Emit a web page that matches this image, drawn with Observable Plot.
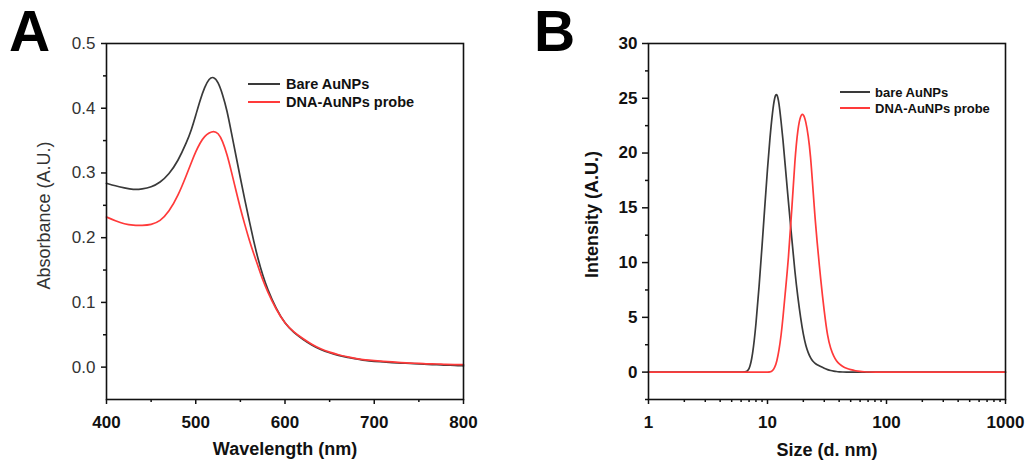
<!DOCTYPE html>
<html>
<head>
<meta charset="utf-8">
<script src="https://cdn.jsdelivr.net/npm/d3@7"></script>
<script src="https://cdn.jsdelivr.net/npm/@observablehq/plot@0.6"></script>
<style>
  html, body { margin: 0; padding: 0; background: #fff; }
  #wrap { position: relative; width: 1029px; height: 465px; overflow: hidden; font-family: "Liberation Sans", Arial, sans-serif; }
  .panel { position: absolute; top: 0; }
  .letter { position: absolute; font-weight: bold; font-size: 57px; line-height: 1; color: #000; }
  .leg { position: absolute; display: flex; align-items: center; font-weight: bold; color: #111; white-space: nowrap; }
  .sw { display: inline-block; height: 0; border-top-style: solid; border-top-width: 2px; }
</style>
</head>
<body>
<div id="wrap"></div>
<script>
// ---------- Panel A: UV-vis ----------
const wavelengths = [400,410,420,430,440,450,460,470,480,490,495,500,505,510,515,520,525,530,535,540,545,550,555,560,565,570,575,580,590,600,610,620,630,640,650,660,670,680,690,700,710,720,730,740,750,760,770,780,790,800];
const absBare  = [0.284,0.280,0.277,0.274,0.275,0.278,0.285,0.298,0.318,0.348,0.366,0.389,0.413,0.433,0.446,0.449,0.441,0.422,0.397,0.362,0.327,0.292,0.258,0.226,0.194,0.166,0.142,0.122,0.090,0.067,0.053,0.043,0.034,0.027,0.022,0.018,0.015,0.013,0.010,0.009,0.008,0.007,0.006,0.006,0.005,0.004,0.004,0.003,0.003,0.002];
const absProbe = [0.232,0.226,0.221,0.219,0.219,0.220,0.225,0.240,0.264,0.298,0.316,0.333,0.347,0.357,0.362,0.365,0.362,0.350,0.329,0.302,0.273,0.245,0.220,0.196,0.175,0.155,0.135,0.118,0.089,0.067,0.054,0.044,0.035,0.028,0.023,0.019,0.016,0.013,0.011,0.010,0.009,0.008,0.007,0.006,0.006,0.005,0.005,0.004,0.004,0.004];
const aXTicks = [400,500,600,700,800];
const aXMinor = [450,550,650,750];
const aYTicks = [0,0.1,0.2,0.3,0.4,0.5];
const aYMinor = [0.05,0.15,0.25,0.35,0.45];

// ---------- Panel B: DLS ----------
const sizes     = [1,2,4,6,6.5,7,7.5,8,8.5,9,9.5,10,10.5,11,11.5,12,12.5,13,13.5,14,15,16,17,18,19,20,21,22,23,24,25,26,28,30,32,34,36,38,40,43,46,50,55,60,65,70,80,100,200,500,1000];
const intBare   = [0,0,0,0,0,0.1,1.5,4.3,7.8,11.5,15.2,18.6,21.5,23.7,25.2,25.5,24.6,22.9,21.2,19.2,15.5,12.2,9.1,6.8,4.9,3.4,2.4,1.75,1.3,1.0,0.82,0.68,0.5,0.35,0.22,0.14,0.09,0.05,0.03,0.01,0,0,0,0,0,0,0,0,0,0,0];
const intProbe  = [0,0,0,0,0,0,0,0,0,0,0,0,0,0.1,0.4,1.0,2.0,3.3,5.0,6.9,10.3,14.8,19.5,22.3,23.5,23.6,22.9,21.6,19.8,17.0,14.3,12.1,8.4,5.5,3.2,2.1,1.45,1.0,0.75,0.5,0.35,0.22,0.12,0.06,0.03,0.01,0,0,0,0,0];
const bXTicks = [1,10,100,1000];
const bXMinor = [2,3,4,5,6,7,8,9,20,30,40,50,60,70,80,90,200,300,400,500,600,700,800,900];
const bYTicks = [0,5,10,15,20,25,30];
const bYMinor = [-2.5,2.5,7.5,12.5,17.5,22.5,27.5];

const seriesNames = ["Bare AuNPs", "DNA-AuNPs probe"];
const seriesNamesB = ["bare AuNPs", "DNA-AuNPs probe"];
const colors = ["#3a3a3a", "#ff3a3a"];

const FONT = '"Liberation Sans", Arial, sans-serif';
const wrap = document.getElementById("wrap");

const uvBare = wavelengths.map((w, i) => ({w, a: absBare[i]}));
const uvProbe = wavelengths.map((w, i) => ({w, a: absProbe[i]}));
const dlsBare = sizes.map((s, i) => ({s, v: intBare[i]}));
const dlsProbe = sizes.map((s, i) => ({s, v: intProbe[i]}));

const plotA = Plot.plot({
  width: 490, height: 465,
  marginLeft: 106, marginRight: 27, marginTop: 43, marginBottom: 66,
  style: {fontFamily: FONT, background: "transparent", overflow: "visible", color: "#111"},
  x: {domain: [400, 800]},
  y: {domain: [-0.05, 0.5]},
  marks: [
    Plot.line(uvBare, {x: "w", y: "a", stroke: colors[0], strokeWidth: 1.7, curve: "basis"}),
    Plot.line(uvProbe, {x: "w", y: "a", stroke: colors[1], strokeWidth: 1.7, curve: "basis"}),
    Plot.frame({stroke: "#111", strokeWidth: 1.6}),
    Plot.axisX({ticks: aXTicks, tickSize: 5, tickPadding: 11, tickFormat: d3.format("d"), fontSize: 17, fontWeight: "bold", label: null, strokeWidth: 1.5}),
    Plot.axisX({ticks: aXMinor, tickSize: 3, tickFormat: () => "", label: null, strokeWidth: 1.5}),
    Plot.axisY({ticks: aYTicks, tickSize: 5, tickPadding: 6, tickFormat: d3.format(".1f"), fontSize: 17, fill: "#333", label: null, strokeWidth: 1.5}),
    Plot.axisY({ticks: aYMinor, tickSize: 3, tickFormat: () => "", label: null, strokeWidth: 1.5}),
    Plot.text(["Wavelength (nm)"], {text: d => d, frameAnchor: "bottom", lineAnchor: "middle", textAnchor: "middle", dy: 50, fontSize: 18, fontWeight: "bold", fill: "#111"}),
    Plot.text(["Absorbance (A.U.)"], {text: d => d, frameAnchor: "left", lineAnchor: "middle", textAnchor: "middle", rotate: -90, dx: -62, dy: -6, fontSize: 18, fill: "#333"})
  ]
});
plotA.classList.add("panel");
plotA.style.left = "0px";
wrap.appendChild(plotA);

const plotB = Plot.plot({
  width: 509, height: 465,
  marginLeft: 128, marginRight: 24, marginTop: 43, marginBottom: 66,
  style: {fontFamily: FONT, background: "transparent", overflow: "visible", color: "#111"},
  x: {type: "log", domain: [1, 1000]},
  y: {domain: [-2.5, 30]},
  marks: [
    Plot.line(dlsBare, {x: "s", y: "v", stroke: colors[0], strokeWidth: 1.7, curve: "basis"}),
    Plot.line(dlsProbe, {x: "s", y: "v", stroke: colors[1], strokeWidth: 1.7, curve: "basis"}),
    Plot.frame({stroke: "#111", strokeWidth: 1.6}),
    Plot.axisX({ticks: bXTicks, tickSize: 5, tickPadding: 11, tickFormat: d3.format("d"), fontSize: 17, fontWeight: "bold", label: null, strokeWidth: 1.5}),
    Plot.axisX({ticks: bXMinor, tickSize: 3, tickFormat: () => "", label: null, strokeWidth: 1.5}),
    Plot.axisY({ticks: bYTicks, tickSize: 6, tickPadding: 5, tickFormat: d3.format("d"), fontSize: 17, fontWeight: "bold", label: null, strokeWidth: 1.5}),
    Plot.axisY({ticks: bYMinor, tickSize: 3, tickFormat: () => "", label: null, strokeWidth: 1.5}),
    Plot.text(["Size (d. nm)"], {text: d => d, frameAnchor: "bottom", lineAnchor: "middle", textAnchor: "middle", dy: 51, fontSize: 18, fontWeight: "bold", fill: "#111"}),
    Plot.text(["Intensity (A.U.)"], {text: d => d, frameAnchor: "left", lineAnchor: "middle", textAnchor: "middle", rotate: -90, dx: -56, dy: -7, fontSize: 18, fontWeight: "bold", fill: "#111"})
  ]
});
plotB.classList.add("panel");
plotB.style.left = "520px";
wrap.appendChild(plotB);

// panel letters
function addLetter(t, left, top) {
  const d = document.createElement("div");
  d.className = "letter"; d.textContent = t;
  d.style.left = left + "px"; d.style.top = top + "px";
  wrap.appendChild(d);
}
addLetter("A", 9, 3);
addLetter("B", 534, 3);

// legends
function addLegend(names, left, tops, lineW, gap, fs) {
  names.forEach((n, i) => {
    const row = document.createElement("div");
    row.className = "leg";
    row.style.left = left + "px";
    row.style.top = (tops[i] - 10) + "px";
    row.style.height = "20px";
    row.style.fontSize = fs + "px";
    const sw = document.createElement("span");
    sw.className = "sw";
    sw.style.width = lineW + "px";
    sw.style.borderTopColor = colors[i];
    sw.style.marginRight = gap + "px";
    const tx = document.createElement("span");
    tx.textContent = n;
    row.appendChild(sw); row.appendChild(tx);
    wrap.appendChild(row);
  });
}
addLegend(seriesNames, 248, [84, 102], 32, 6, 14.5);
addLegend(seriesNamesB, 840, [92, 108], 30, 5, 13);
</script>
</body>
</html>
